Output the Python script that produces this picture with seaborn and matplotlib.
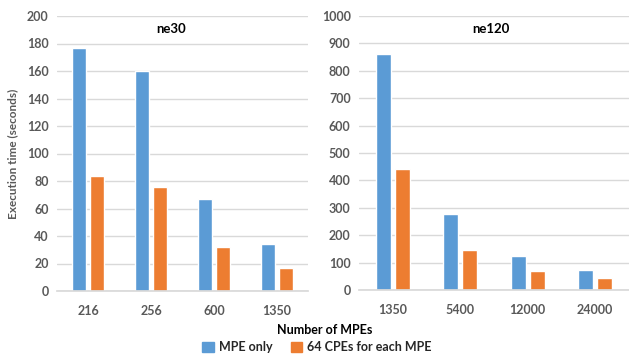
import numpy as np
import pandas as pd
import matplotlib
matplotlib.use('Agg')
import matplotlib.pyplot as plt
import matplotlib.patches as mpatches
import seaborn as sns

# data
ne30_mpes = ['216', '256', '600', '1350']
ne30_mpe_only = [177, 160, 67, 34]
ne30_cpe = [84, 76, 32, 17]

ne120_mpes = ['1350', '5400', '12000', '24000']
ne120_mpe_only = [860, 278, 123, 72]
ne120_cpe = [440, 147, 68, 42]

series_names = ['MPE only', '64 CPEs for each MPE']
colors = ['#5B9BD5', '#ED7D31']

sns.set_theme(style='white')
plt.rcParams['font.family'] = ['Lato', 'DejaVu Sans']
plt.rcParams['font.weight'] = 'bold'

grey = '#595959'


def make_frame(mpes, a, b):
    return pd.DataFrame({
        'mpes': mpes * 2,
        'time': a + b,
        'series': [series_names[0]] * len(mpes) + [series_names[1]] * len(mpes),
    })


fig = plt.figure(figsize=(6.29, 3.54), dpi=100)
W, H = 629, 354
ax1 = fig.add_axes([57 / W, 63 / H, 251 / W, 275 / H])
ax2 = fig.add_axes([359 / W, 64 / H, 270 / W, 274 / H])

panels = [
    (ax1, make_frame(ne30_mpes, ne30_mpe_only, ne30_cpe), 'ne30', 200, 20, 171),
    (ax2, make_frame(ne120_mpes, ne120_mpe_only, ne120_cpe), 'ne120', 1000, 100, 491),
]

for ax, df, title, ymax, step, tx in panels:
    sns.barplot(data=df, x='mpes', y='time', hue='series', palette=colors,
                width=0.57, gap=0.22, ax=ax, legend=False, saturation=1)
    ax.set_ylim(0, ymax)
    ax.set_yticks(np.arange(0, ymax + 1, step))
    ax.grid(axis='y', color='#D9D9D9', linewidth=1)
    ax.set_axisbelow(True)
    for s in ['top', 'right', 'left']:
        ax.spines[s].set_visible(False)
    ax.spines['bottom'].set_color('#D9D9D9')
    ax.tick_params(axis='both', length=0, labelsize=9, labelcolor=grey, pad=6)
    ax.tick_params(axis='x', pad=10)
    for lab in ax.get_xticklabels() + ax.get_yticklabels():
        lab.set_fontweight('bold')
    ax.set_xlabel('')
    ax.set_ylabel('')
    fig.text(tx / W, 1 - 29 / H, title, ha='center', va='center',
             fontsize=9.5, fontweight='bold', color='black')

ax1.set_ylabel('Execution time (seconds)', fontsize=8.5, color=grey,
               fontweight='bold', labelpad=6)

fig.text(325 / W, 1 - 330 / H, 'Number of MPEs', ha='center', va='center',
         fontsize=9, fontweight='bold', color='black')

handles = [mpatches.Patch(color=c, label=n) for c, n in zip(colors, series_names)]
leg = fig.legend(handles=handles, loc='center', bbox_to_anchor=(317 / W, 1 - 347 / H),
                 ncol=2, frameon=False, fontsize=9, handlelength=0.9, handleheight=0.9,
                 handletextpad=0.4, columnspacing=1.5, borderpad=0)
for t in leg.get_texts():
    t.set_fontweight('bold')

fig.savefig('out.png', dpi=100)
